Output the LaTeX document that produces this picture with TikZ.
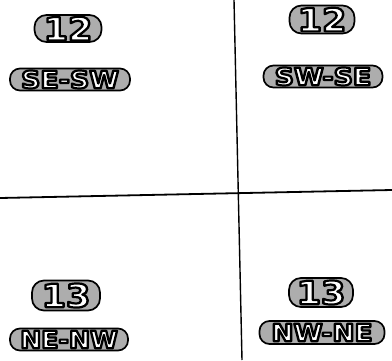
\documentclass[tikz,border=0pt]{standalone}
\usepackage{fontspec}
\setmainfont{DejaVu Sans}
\tikzset{
  badge/.style={draw=black, line width=1.7pt, fill=black!32, rounded corners=#1, inner sep=0pt},
  numbadge/.style={badge=12pt, font=\fontsize{32}{32}\selectfont\bfseries},
  dirbadge/.style={badge=10pt, font=\fontsize{24}{24}\selectfont\bfseries},
  divider/.style={line width=1.4pt, black}
}
\newcommand{\badgetext}[2]{\textcolor{white}{\special{pdf:literal direct 0 G 2.2 w 1 j 2 Tr}\scalebox{#1}[1]{#2}\special{pdf:literal direct 0 Tr}}}
\begin{document}
\begin{tikzpicture}[x=1pt,y=-1pt]
\useasboundingbox (0,0) rectangle (392,360);
% dividers
\coordinate (ht) at (234,0);
\coordinate (hb) at (242,360);
\coordinate (vl) at (0,198);
\coordinate (vr) at (392,190);
\draw[divider] (ht) -- (hb);
\draw[divider, line width=1.8pt] (vl) -- (vr);
% badges
\node[numbadge, minimum width=67pt, minimum height=27pt] (a) at (68,28.5) {\badgetext{1.1}{12}};
\node[dirbadge, minimum width=120pt, minimum height=22pt] (b) at (70,79.5) {\badgetext{1.12}{SE-SW}};
\node[numbadge, minimum width=65pt, minimum height=28pt] (c) at (322,19.5) {\badgetext{1.1}{12}};
\node[dirbadge, minimum width=119pt, minimum height=22pt] (d) at (323,76.5) {\badgetext{1.12}{SW-SE}};
\node[numbadge, minimum width=68pt, minimum height=30pt] (e) at (66,295.5) {\badgetext{1.1}{13}};
\node[dirbadge, minimum width=118pt, minimum height=22pt] (f) at (69,339.5) {\badgetext{1.05}{NE-NW}};
\node[numbadge, minimum width=64pt, minimum height=29pt] (g) at (321,292.5) {\badgetext{1.1}{13}};
\node[dirbadge, minimum width=125pt, minimum height=23pt] (h) at (322,332.5) {\badgetext{1.1}{NW-NE}};
\end{tikzpicture}
\end{document}
